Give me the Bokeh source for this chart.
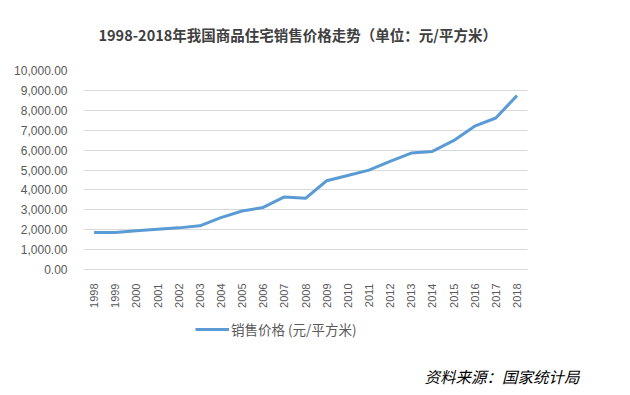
from bokeh.plotting import figure
from bokeh.layouts import column
from bokeh.models import Range1d, FixedTicker, NumeralTickFormatter, Legend, LegendItem, Label
from bokeh.embed import file_html
from bokeh.resources import INLINE
import math

years = list(range(1998, 2019))
prices = [1854, 1857, 1948, 2017, 2092, 2197, 2608, 2937, 3119, 3645, 3576,
          4459, 4725, 4993, 5430, 5850, 5933, 6473, 7203, 7614, 8737]
y_ticks = [0, 1000, 2000, 3000, 4000, 5000, 6000, 7000, 8000, 9000, 10000]

title_text = "1998-2018年我国商品住宅销售价格走势（单位：元/平方米）"
series_name = "销售价格 (元/平方米)"
source_text = "资料来源：国家统计局"

LINE_COLOR = "#5b9bd5"
W, H0, H1, H2 = 614, 55, 255, 77


def blank_strip(h):
    f = figure(width=W, height=h, output_backend="svg", toolbar_location=None,
               x_range=Range1d(0, 1), y_range=Range1d(0, 1),
               min_border=0, x_axis_type=None, y_axis_type=None)
    f.outline_line_color = None
    f.frame_align = False
    f.grid.visible = False
    return f


# top strip: title
p0 = blank_strip(H0)
p0.add_layout(Label(x=98, y=H0 - 34, x_units="screen", y_units="screen", text=title_text,
                    text_font="Noto Sans CJK SC", text_font_style="bold",
                    text_font_size="14.5px", text_color="#404040",
                    text_align="left", text_baseline="middle"))

# main chart
p = figure(width=W, height=H1, output_backend="svg", toolbar_location=None,
           x_range=Range1d(1997.5, 2018.5), y_range=Range1d(0, 10000),
           min_border_left=83, min_border_right=W - 527, min_border_top=70 - H0,
           min_border_bottom=H0 + H1 - 269)
p.outline_line_color = None
p.frame_align = False

p.line(years, prices, line_color=LINE_COLOR, line_width=3, line_join="round")

p.xaxis.ticker = FixedTicker(ticks=years)
p.xaxis.major_label_orientation = math.pi / 2
p.xaxis.major_tick_line_color = None
p.xaxis.minor_tick_line_color = None
p.xaxis.axis_line_color = "#d9d9d9"
p.xaxis.major_label_text_color = "#595959"
p.xaxis.major_label_text_font = "Liberation Sans"
p.xaxis.major_label_text_font_size = "11px"
p.xaxis.major_label_standoff = 8

p.yaxis.ticker = FixedTicker(ticks=y_ticks)
p.yaxis.formatter = NumeralTickFormatter(format="0,0.00")
p.yaxis.major_tick_line_color = None
p.yaxis.minor_tick_line_color = None
p.yaxis.axis_line_color = None
p.yaxis.major_label_text_color = "#595959"
p.yaxis.major_label_text_font = "Liberation Sans"
p.yaxis.major_label_text_font_size = "12px"
p.yaxis.major_label_standoff = 10

p.xgrid.grid_line_color = None
p.ygrid.grid_line_color = "#d9d9d9"
p.ygrid.ticker = FixedTicker(ticks=y_ticks)

# bottom strip: legend and source note
p2 = blank_strip(H2)
r2 = p2.line(years, prices, line_color=LINE_COLOR, line_width=3)

legend = Legend(items=[LegendItem(label=series_name, renderers=[r2])],
                location=(195, 48), orientation="horizontal",
                label_text_font="Noto Sans CJK SC", label_text_font_size="13.5px",
                label_text_color="#595959", glyph_width=34, glyph_height=20,
                label_standoff=2, border_line_color=None,
                background_fill_alpha=0, padding=0, margin=0)
p2.add_layout(legend)

p2.add_layout(Label(x=579, y=12, x_units="screen", y_units="screen", text=source_text,
                    text_font="Noto Sans CJK SC", text_font_style="italic",
                    text_font_size="15.5px", text_color="#000000",
                    text_align="right", text_baseline="middle"))

layout = column(p0, p, p2, spacing=0)
open("out.html", "w").write(file_html(layout, INLINE))
